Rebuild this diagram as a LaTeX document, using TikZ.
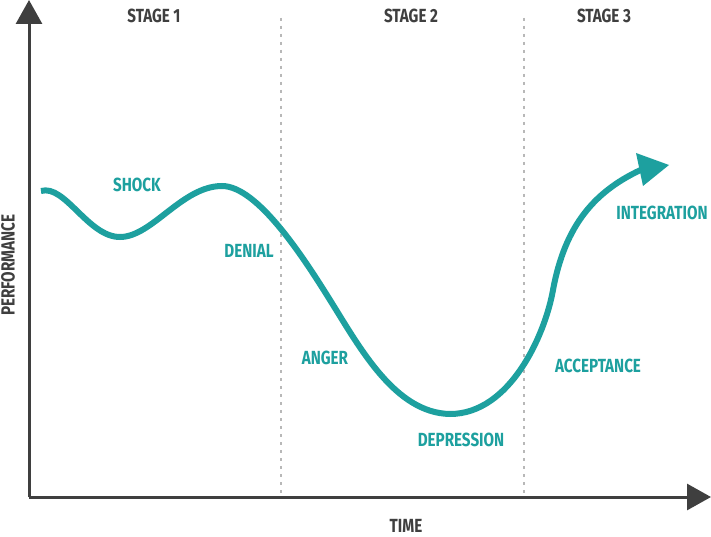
\documentclass[tikz,border=0pt]{standalone}
\usepackage{fontspec}
\setmainfont{Fira Sans}[FakeStretch=0.8]
\usetikzlibrary{arrows.meta}
\definecolor{teal1}{HTML}{1DA09F}
\definecolor{axisgray}{HTML}{3F3F3F}
\definecolor{dotgray}{HTML}{B8B8B8}
\begin{document}
\begin{tikzpicture}[x=1pt,y=-1pt,
  axis/.style={draw=axisgray,line width=3pt,-{Triangle[length=24pt,width=26pt]}},
  divider/.style={draw=dotgray,line width=2.8pt,dash pattern=on 2.8pt off 5.2pt},
  stagelbl/.style={text=axisgray,font=\fontsize{19}{19}\selectfont\bfseries,inner sep=0pt},
  phaselbl/.style={text=teal1,font=\fontsize{19}{19}\selectfont\bfseries,inner sep=0pt},
  curve/.style={draw=teal1,line width=6pt}]
\useasboundingbox (0,0) rectangle (711,537);
\fill[white] (0,0) rectangle (711,537);
% coordinates
\coordinate (O) at (29,497);
\coordinate (ytop) at (29,0);
\coordinate (xend) at (711,497);
\coordinate (d1t) at (281,18);
\coordinate (d1b) at (281,497);
\coordinate (d2t) at (524,18);
\coordinate (d2b) at (524,497);
% dividers
\draw[divider] (d1t) -- (d1b);
\draw[divider] (d2t) -- (d2b);
% axes
\draw[axis] (O) -- (ytop);
\draw[axis] (O) -- (xend);
% curve
\coordinate (c0) at (41,191);
\coordinate (c1) at (120,237);
\coordinate (c2) at (222,186);
\coordinate (c3) at (330,300);
\coordinate (c4) at (450,414);
\coordinate (c5) at (553,290);
\coordinate (c6) at (645,168);
\draw[curve] (c0) .. controls (65,184) and (88,237) .. (c1)
  .. controls (152,237) and (182,186) .. (c2)
  .. controls (258,186) and (305,260) .. (c3)
  .. controls (360,348) and (395,413) .. (c4)
  .. controls (510,414) and (545,335) .. (c5)
  .. controls (565,225) and (595,190) .. (c6);
\coordinate (ah1) at (636,153);
\coordinate (ah2) at (669,165);
\coordinate (ah3) at (643,186);
\fill[teal1] (ah1) -- (ah2) -- (ah3) -- cycle;
% stage labels
\node[stagelbl] (s1) at (154,16) {STAGE 1};
\node[stagelbl] (s2) at (411,16) {STAGE 2};
\node[stagelbl] (s3) at (604,16) {STAGE 3};
\node[stagelbl,anchor=base] (time) at (406,532) {TIME};
\node[stagelbl,rotate=90] (perf) at (8,265) {PERFORMANCE};
% phase labels
\node[phaselbl] (shock) at (137,185) {SHOCK};
\node[phaselbl] (denial) at (249,251) {DENIAL};
\node[phaselbl] (anger) at (325,358) {ANGER};
\node[phaselbl] (depr) at (461,440) {DEPRESSION};
\node[phaselbl] (accept) at (598,366) {ACCEPTANCE};
\node[phaselbl] (integ) at (662,213) {INTEGRATION};
\end{tikzpicture}
\end{document}
